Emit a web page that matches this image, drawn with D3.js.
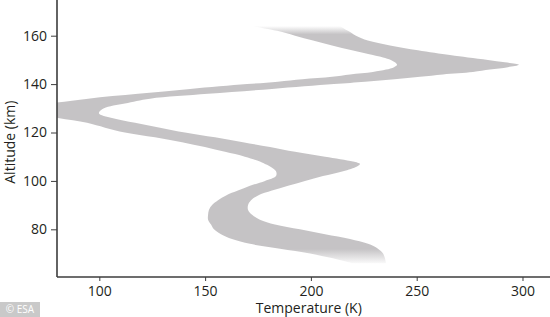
<!DOCTYPE html>
<html>
    <head>
        <script src="https://d3js.org/d3.v7.min.js"></script>
        <style type="text/css">
            html, body {
                width: 100%;
                height: 100%;
                padding: 0;
                margin: 0;
                background: #fff;
            }
            svg text {
                font-family: "Open Sans", sans-serif;
                fill: #231f20;
            }
        </style>
    </head>

    <body>
        <div id='chart'></div>
        <script>
            // altitude (km) with the lower / upper temperature bound (K) of the profile
            var altitude = [164, 163, 162, 160, 158, 156, 154, 152, 151, 150, 149, 148, 147, 146, 145, 144, 143, 142, 141, 140,
                            138, 136, 134, 132, 130, 128, 126, 124, 122, 120, 118, 116, 114, 112, 110, 108, 107, 106, 104, 102,
                            100, 98, 96, 94, 92, 90, 88, 86, 84, 82, 80, 78, 76, 74, 72, 70, 68, 66];
            var tempMin = [172.6, 178.3, 184.0, 192.5, 201.0, 210.0, 219.4, 229.3, 234.1, 237.8, 239.7, 240.7, 239.3, 235.5, 229.3, 218.5, 210.0, 196.0, 184.4, 169.8,
                           142.9, 118.3, 94.7, 77.6, 67.2, 68.2, 80.5, 94.2, 102.7, 112.1, 126.3, 139.1, 149.9, 159.4, 168.8, 175.9, 178.3, 180.7, 183.5, 183.5,
                           178.3, 171.2, 165.5, 159.9, 156.1, 153.3, 151.8, 151.4, 151.4, 152.8, 154.2, 157.5, 162.7, 171.2, 185.4, 199.6, 210.4, 219.4];
            var tempMax = [213.7, 215.6, 217.5, 221.3, 226.9, 237.4, 250.6, 265.7, 274.2, 283.7, 291.7, 298.3, 293.1, 284.6, 276.6, 262.4, 251.6, 239.5, 225.6, 210.9,
                           181.6, 151.4, 124.0, 112.1, 102.2, 99.8, 106.0, 116.9, 128.7, 140.5, 154.7, 167.9, 180.7, 192.5, 206.7, 219.9, 223.2, 221.8, 215.2, 205.7,
                           197.2, 189.2, 181.6, 175.0, 171.7, 170.3, 170.3, 172.2, 175.9, 183.0, 194.8, 206.7, 218.5, 227.0, 231.7, 234.1, 235.0, 235.5];

            var xTicks = [100, 150, 200, 250, 300];
            var yTicks = [80, 100, 120, 140, 160];

            var width = 550, height = 317;
            var margin = {top: 0, right: 0, bottom: 40, left: 57};

            var svg = d3.select("#chart").append("svg")
                .attr("width", width)
                .attr("height", height);

            var x = d3.scaleLinear().domain([80, 313]).range([margin.left, width - margin.right]);
            var y = d3.scaleLinear().domain([60.3, 174.75]).range([height - margin.bottom, margin.top]);

            var rows = altitude.map(function(a, i) {
                return {alt: a, lo: tempMin[i], hi: tempMax[i]};
            });

            var defs = svg.append("defs");
            defs.append("clipPath").attr("id", "plot")
                .append("rect")
                .attr("x", x.range()[0])
                .attr("y", 0)
                .attr("width", x.range()[1] - x.range()[0])
                .attr("height", y.range()[0]);

            // soft ends at the top and bottom of the band
            var grad = defs.append("linearGradient").attr("id", "fade")
                .attr("x1", 0).attr("y1", 0).attr("x2", 0).attr("y2", 1);
            grad.append("stop").attr("offset", 0).attr("stop-color", "#c5c3c5").attr("stop-opacity", 0);
            grad.append("stop").attr("offset", 0.035).attr("stop-color", "#c5c3c5").attr("stop-opacity", 1);
            grad.append("stop").attr("offset", 0.94).attr("stop-color", "#c5c3c5").attr("stop-opacity", 1);
            grad.append("stop").attr("offset", 1).attr("stop-color", "#c5c3c5").attr("stop-opacity", 0.1);

            var band = d3.area()
                .y(function(d) { return y(d.alt); })
                .x0(function(d) { return x(d.lo); })
                .x1(function(d) { return x(d.hi); })
                .curve(d3.curveCatmullRom.alpha(0.5));

            svg.append("path")
                .datum(rows)
                .attr("clip-path", "url(#plot)")
                .attr("fill", "url(#fade)")
                .attr("d", band);

            // axes
            var xAxis = svg.append("g")
                .attr("transform", "translate(0," + y.range()[0] + ")")
                .call(d3.axisBottom(x).tickValues(xTicks).tickSize(4).tickPadding(5));
            var yAxis = svg.append("g")
                .attr("transform", "translate(" + x.range()[0] + ",0)")
                .call(d3.axisLeft(y).tickValues(yTicks).tickSize(6).tickPadding(4));

            [xAxis, yAxis].forEach(function(g) {
                g.select(".domain").attr("stroke", "#3d3d3d").attr("stroke-width", 1.6);
                g.selectAll(".tick line").attr("stroke", "#3d3d3d").attr("stroke-width", 1);
                g.selectAll(".tick text")
                    .attr("font-size", 14)
                    .attr("font-family", "Open Sans, sans-serif")
                    .attr("fill", "#231f20");
            });
            // x axis runs to the right edge, y axis to the top
            xAxis.select(".domain").attr("d", "M" + x.range()[0] + ",0H" + width);
            yAxis.select(".domain").attr("d", "M0," + y.range()[0] + "V0");

            svg.append("text")
                .attr("x", x(199))
                .attr("y", 313)
                .attr("text-anchor", "middle")
                .attr("font-size", 14)
                .text("Temperature (K)");

            svg.append("text")
                .attr("transform", "rotate(-90)")
                .attr("x", -y(116))
                .attr("y", 15)
                .attr("text-anchor", "middle")
                .attr("font-size", 14)
                .text("Altitude (km)");

            // credit tag
            svg.append("rect")
                .attr("x", 0).attr("y", 302)
                .attr("width", 40).attr("height", 15)
                .attr("fill", "#c9c9c9");
            svg.append("text")
                .attr("x", 20).attr("y", 313)
                .attr("text-anchor", "middle")
                .attr("font-size", 10)
                .style("fill", "#ffffff")
                .text("\u00a9 ESA");
        </script>
    </body>
</html>
